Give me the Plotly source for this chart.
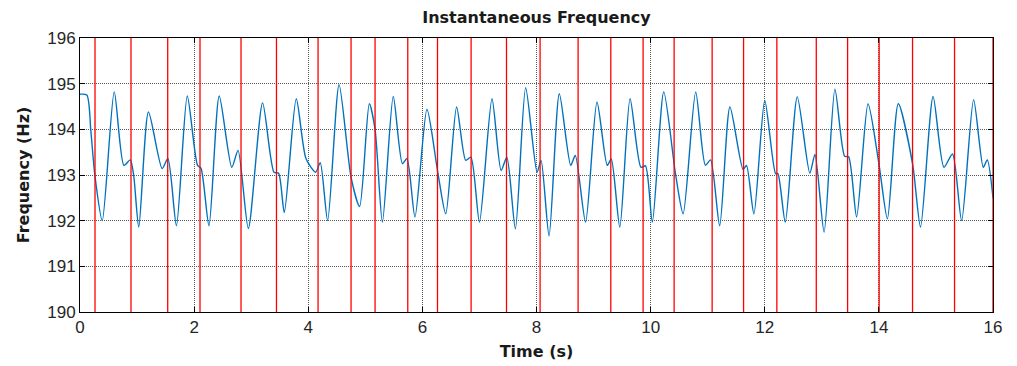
import plotly.graph_objects as go

# Instantaneous frequency trace: time (s) and frequency (Hz)
time_s = [
    0.00, 0.12, 0.19, 0.26, 0.39,
    0.60, 0.77, 0.88, 0.94, 1.03,
    1.20, 1.44, 1.54, 1.69,
    1.88, 2.06, 2.12, 2.26,
    2.44, 2.66, 2.77, 2.95,
    3.20, 3.40, 3.48, 3.58,
    3.79, 3.96, 4.13, 4.21, 4.34,
    4.54, 4.75, 4.90,
    5.07, 5.17, 5.30,
    5.49, 5.65, 5.73, 5.87,
    6.08, 6.27, 6.41,
    6.60, 6.76, 6.85, 7.00,
    7.22, 7.38, 7.48, 7.63,
    7.81, 8.01, 8.08, 8.22,
    8.40, 8.60, 8.68, 8.86,
    9.06, 9.24, 9.31, 9.46,
    9.64, 9.83, 9.91, 10.03,
    10.23, 10.44, 10.57,
    10.79, 10.96, 11.05, 11.21,
    11.39, 11.62, 11.68, 11.81,
    12.00, 12.19, 12.23, 12.36,
    12.57, 12.79, 12.88, 13.04,
    13.23, 13.40, 13.47, 13.61,
    13.81, 14.00, 14.15,
    14.34, 14.59, 14.73,
    14.95, 15.14, 15.29, 15.45,
    15.66, 15.83, 15.90, 16.00,
]
freq_hz = [
    194.77, 194.75, 193.97, 193.00, 192.00,
    194.82, 193.21, 193.33, 193.00, 191.86,
    194.38, 193.14, 193.36, 191.89,
    194.73, 193.21, 193.15, 191.89,
    194.73, 193.17, 193.54, 191.83,
    194.58, 193.06, 193.04, 192.18,
    194.67, 193.36, 193.06, 193.27, 192.00,
    194.98, 192.95, 192.31,
    194.56, 194.01, 191.97,
    194.72, 193.25, 193.36, 192.08,
    194.44, 193.06, 192.15,
    194.49, 193.32, 193.39, 191.97,
    194.67, 193.10, 193.39, 191.82,
    194.91, 193.06, 193.32, 191.67,
    194.78, 193.21, 193.43, 191.97,
    194.60, 193.21, 193.35, 191.86,
    194.67, 193.17, 193.20, 191.97,
    194.82, 192.99, 192.15,
    194.82, 193.21, 193.33, 191.89,
    194.49, 193.12, 193.21, 192.15,
    194.63, 193.03, 193.03, 191.97,
    194.71, 193.04, 193.45, 191.75,
    194.88, 193.41, 193.40, 192.08,
    194.56, 193.25, 192.04,
    194.56, 193.25, 191.86,
    194.72, 193.17, 193.46, 192.00,
    194.65, 193.17, 193.33, 192.50,
]

# Event markers (s)
event_times = [
    0.263, 0.894, 1.537, 2.103, 2.822, 3.443, 4.172, 4.750, 5.171,
    5.744, 6.265, 6.854, 7.474, 8.063, 8.729, 9.302, 9.868, 10.412,
    11.078, 11.629, 12.212, 12.903, 13.452, 14.005, 14.590, 15.326, 16.0,
]

y_range = [190, 196]
x_range = [0, 16]

fig = go.Figure()

fig.add_trace(go.Scatter(
    x=time_s, y=freq_hz, mode="lines",
    line=dict(color="#0072BD", width=1.4, shape="spline", smoothing=0.7),
    showlegend=False, hoverinfo="skip",
))

ex, ey = [], []
for t in event_times:
    ex += [t, t, None]
    ey += [y_range[0], y_range[1], None]
fig.add_trace(go.Scatter(
    x=ex, y=ey, mode="lines",
    line=dict(color="#FF0000", width=1.3),
    showlegend=False, hoverinfo="skip",
))

title_font = dict(family="DejaVu Sans", size=16, color="#1a1a1a")
tick_font = dict(family="Liberation Sans, Arial", size=17, color="#262626")

fig.update_layout(
    width=1017, height=366,
    margin=dict(l=80, r=24, t=38, b=54),
    paper_bgcolor="white", plot_bgcolor="white",
    title=dict(text="<b>Instantaneous Frequency</b>", font=title_font,
               x=0.5, xref="paper", y=1 - 17 / 366, yref="container",
               xanchor="center", yanchor="middle"),
)

grid = dict(showgrid=True, gridcolor="#5a5a5a", griddash="1px,1px", gridwidth=1)

fig.update_xaxes(
    range=x_range, dtick=2, tick0=0, automargin=False,
    showline=True, linecolor="black", linewidth=1, mirror="allticks",
    ticks="inside", ticklen=5, tickcolor="black",
    zeroline=False, tickfont=tick_font, **grid,
    title=dict(text="<b>Time (s)</b>", font=title_font, standoff=9),
)
fig.update_yaxes(
    range=y_range, dtick=1, tick0=190, automargin=False,
    showline=True, linecolor="black", linewidth=1, mirror="allticks",
    ticks="inside", ticklen=5, tickcolor="black",
    zeroline=False, tickfont=tick_font, **grid,
    title=dict(text="<b>Frequency (Hz)</b>", font=title_font, standoff=13),
)

fig.write_html("out.html")
